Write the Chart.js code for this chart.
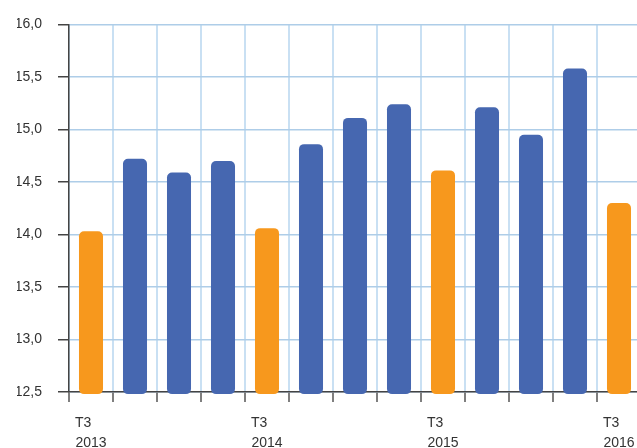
<!DOCTYPE html>
<html>
<head>
<meta charset="utf-8">
<script src="https://cdn.jsdelivr.net/npm/chart.js@4.4.1/dist/chart.umd.min.js"></script>
<style>
  html, body { margin: 0; padding: 0; background: #fff; overflow: hidden; }
  #wrap { width: 637px; height: 448px; overflow: hidden; position: relative; }
  #box { position: absolute; left: 0; top: 0; width: 650px; height: 465px; }
</style>
</head>
<body>
<div id="wrap"><div id="box"><canvas id="myChart"></canvas></div></div>
<script>
const QUARTERS = ['T3 2013', 'T4 2013', 'T1 2014', 'T2 2014', 'T3 2014', 'T4 2014', 'T1 2015',
  'T2 2015', 'T3 2015', 'T4 2015', 'T1 2016', 'T2 2016', 'T3 2016'];
const VALUES = [14.03, 14.72, 14.59, 14.70, 14.06, 14.86, 15.11, 15.24, 14.61, 15.21, 14.95, 15.58, 14.30];
const Y_MIN = 12.5;
const Y_MAX = 16.0;

const BLUE = '#4667b0';
const ORANGE = '#f7981d';

// third quarters are highlighted and labelled
const isT3 = (label) => label.startsWith('T3');
const barColors = QUARTERS.map((q) => (isT3(q) ? ORANGE : BLUE));

const FONT = { family: 'Liberation Sans, Arial, sans-serif', size: 14 };

const ctx = document.getElementById('myChart');

const myChart = new Chart(ctx, {
  type: 'bar',
  data: {
    labels: QUARTERS,
    datasets: [{
      data: VALUES,
      backgroundColor: barColors,
      borderWidth: 0,
      borderRadius: 5,
      borderSkipped: false,
      base: Y_MIN - 0.02,
      clip: false,
      barPercentage: 0.6,
      categoryPercentage: 0.91,
    }],
  },
  options: {
    responsive: true,
    maintainAspectRatio: false,
    animation: false,
    layout: {
      padding: { left: 17, top: 22, right: 9, bottom: 1 },
    },
    plugins: {
      legend: { display: false },
      tooltip: { enabled: false },
    },
    scales: {
      x: {
        offset: true,
        grid: {
          offset: true,
          color: '#c9e0f3',
          lineWidth: 2,
          tickColor: '#555',
          tickLength: 10,
          tickWidth: 1.5,
        },
        border: { color: '#444', width: 1.5 },
        ticks: {
          autoSkip: false,
          maxRotation: 0,
          padding: 11,
          color: '#333',
          font: { ...FONT, lineHeight: '20px' },
          callback: function (value, index) {
            const q = QUARTERS[index];
            if (!isT3(q)) return '';
            const [t, year] = q.split(' ');
            // pad the first line so both lines start at the same x
            return [t + '\u00a0\u00a0\u00a0\u00a0', year];
          },
        },
      },
      y: {
        min: Y_MIN,
        max: Y_MAX,
        afterFit: (scale) => { scale.width = 52; },
        grid: {
          color: '#aecde8',
          lineWidth: 1.5,
          tickColor: '#444',
          tickLength: 11,
          tickWidth: 1.5,
        },
        border: { color: '#444', width: 1.5 },
        ticks: {
          stepSize: 0.5,
          padding: 16,
          color: '#333',
          font: FONT,
          callback: (value) => value.toFixed(1).replace('.', ','),
        },
      },
    },
  },
});
</script>
</body>
</html>
